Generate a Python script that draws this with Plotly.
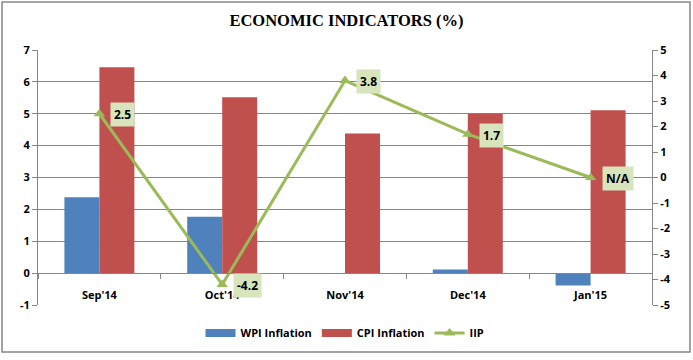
import plotly.graph_objects as go

categories = ["Sep'14", "Oct'14", "Nov'14", "Dec'14", "Jan'15"]
wpi = [2.38, 1.77, 0.0, 0.11, -0.39]
cpi = [6.46, 5.52, 4.38, 5.0, 5.11]
iip = [2.5, -4.2, 3.8, 1.7, 0.0]
iip_labels = ["2.5", "-4.2", "3.8", "1.7", "N/A"]
left_ticks = [-1, 0, 1, 2, 3, 4, 5, 6, 7]
right_ticks = [-5, -4, -3, -2, -1, 0, 1, 2, 3, 4, 5]

grid = "#868686"
blue, red, green = "#4f81bd", "#c0504d", "#9bbb59"
tfont = dict(family="Open Sans, Liberation Sans, sans-serif", size=11, color="#000000", weight="bold")

fig = go.Figure()
fig.add_trace(go.Bar(x=categories, y=wpi, name="WPI Inflation", showlegend=False,
                     marker=dict(color=blue, line=dict(width=0))))
fig.add_trace(go.Bar(x=categories, y=cpi, name="CPI Inflation", showlegend=False,
                     marker=dict(color=red, line=dict(width=0))))
# legend swatches (wide rectangles like the original)
fig.add_trace(go.Scatter(x=[None], y=[None], mode="lines", name="WPI Inflation",
                         line=dict(color=blue, width=8)))
fig.add_trace(go.Scatter(x=[None], y=[None], mode="lines", name="CPI Inflation",
                         line=dict(color=red, width=8)))
fig.add_trace(go.Scatter(x=categories, y=iip, name="IIP", yaxis="y2", mode="lines+markers",
                         line=dict(color=green, width=3),
                         marker=dict(symbol="triangle-up", size=10, color=green)))

for c, v, t in zip(categories, iip, iip_labels):
    fig.add_annotation(x=c, y=v, xref="x", yref="y2", text=t, showarrow=False,
                       xanchor="left", xshift=11, yshift=-1,
                       bgcolor="#d8e4bc", borderpad=3,
                       font=dict(family="Open Sans, Liberation Sans, sans-serif", size=12, color="#000", weight="bold"))

fig.update_layout(
    width=693, height=360,
    margin=dict(l=38, r=41, t=50, b=55),
    paper_bgcolor="white", plot_bgcolor="white",
    barmode="group", bargap=0.43, bargroupgap=0,
    title=dict(text="ECONOMIC INDICATORS (%)", x=0.5, xanchor="center", y=0.945, yanchor="middle",
               font=dict(family="Liberation Serif, serif", size=16.5, color="#000", weight="bold")),
    xaxis=dict(type="category", anchor="free", position=0.125, showline=True, linecolor=grid, linewidth=1,
               ticks="outside", tickson="boundaries", ticklen=5, tickcolor=grid,
               tickfont=tfont, showgrid=False, ticklabelstandoff=12),
    yaxis=dict(range=[-1, 7], tickvals=left_ticks, ticktext=[str(v) for v in left_ticks],
               showgrid=True, gridcolor=grid, gridwidth=1,
               showline=True, linecolor=grid, ticks="outside", ticklen=5, tickcolor=grid,
               tickfont=tfont, zeroline=False),
    yaxis2=dict(range=[-5, 5], tickvals=right_ticks, ticktext=[str(v) for v in right_ticks],
                overlaying="y", side="right", showgrid=False,
                showline=True, linecolor=grid, ticks="outside", ticklen=5, tickcolor=grid,
                tickfont=tfont, zeroline=False),
    legend=dict(orientation="h", x=0.5, xanchor="center", y=-0.11, yanchor="middle",
                font=dict(family="Open Sans, Liberation Sans, sans-serif", size=11, color="#000", weight="bold"),
                traceorder="normal", itemwidth=30),
    showlegend=True,
)

fig.add_shape(type="rect", xref="paper", yref="paper", x0=-0.0586, x1=1.0619, y0=-0.184, y1=1.188,
              line=dict(color="#868686", width=1.5), layer="below")

fig.write_html("out.html", config={"displayModeBar": False},
               post_script="document.body.style.margin='0';")
